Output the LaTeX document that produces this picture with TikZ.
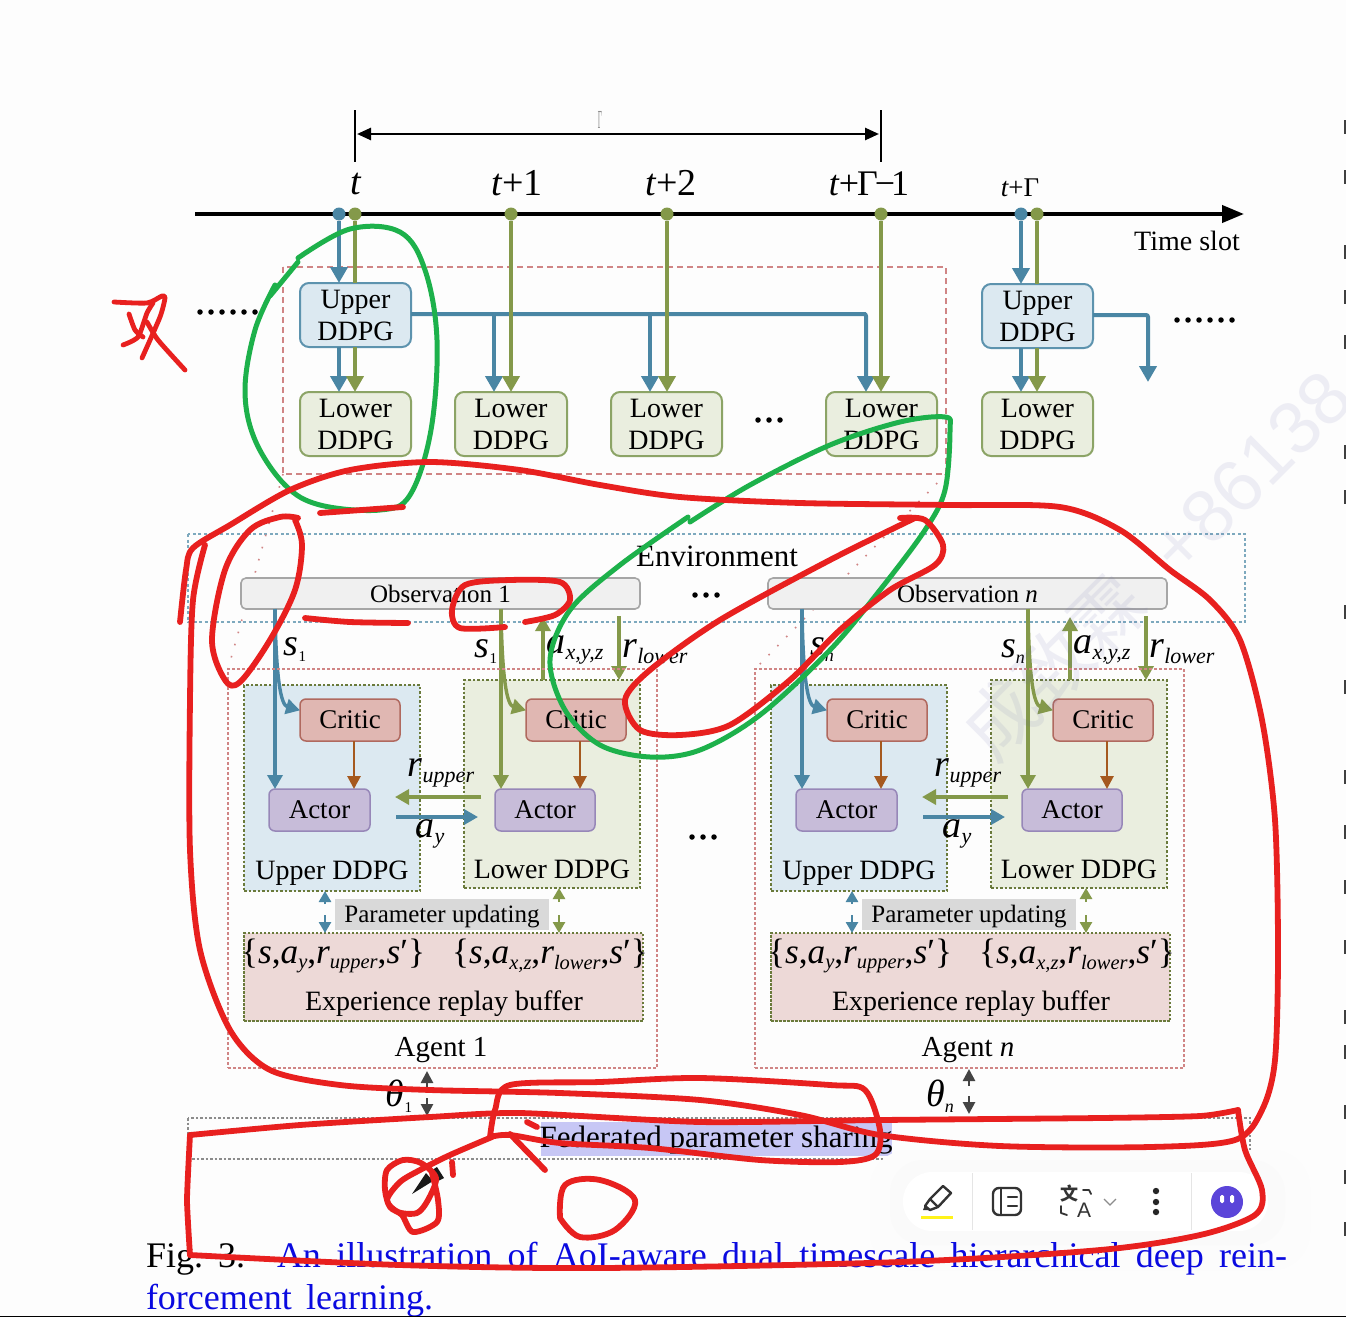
\documentclass[tikz,border=0pt]{standalone}
\usepackage{fontspec}
\setmainfont{Liberation Serif}
\newfontfamily\cjk{Noto Sans CJK SC}
\newfontfamily\uisans{Liberation Sans}
\usetikzlibrary{arrows.meta,calc,shapes.geometric}
\definecolor{pagebg}{HTML}{FDFDFD}
\definecolor{cblue}{HTML}{4A86A4}
\definecolor{colive}{HTML}{84994A}
\definecolor{fblue}{HTML}{DCE9F1}
\definecolor{dblue}{HTML}{5D93AE}
\definecolor{folive}{HTML}{EAEEDF}
\definecolor{dolive}{HTML}{8CA466}
\definecolor{fcrit}{HTML}{E0B7B2}
\definecolor{dcrit}{HTML}{B0695F}
\definecolor{fact}{HTML}{C7BCD9}
\definecolor{dact}{HTML}{9787B8}
\definecolor{cbrown}{HTML}{A5591F}
\definecolor{cred}{HTML}{E8201F}
\definecolor{cgreen}{HTML}{1DB14B}
\definecolor{cpink}{HTML}{D08585}
\definecolor{fbuf}{HTML}{EDD9D7}
\definecolor{cdark}{HTML}{444444}
\definecolor{fed}{HTML}{C7C7F5}
\definecolor{capblue}{HTML}{0A0AE0}
\definecolor{purp}{HTML}{5B45D9}
\newcommand\fs[1]{\fontsize{#1}{#1}\selectfont}
\newcommand\bx[7]{%
  \pgfmathsetmacro\bcx{(#2+#4)/2}\pgfmathsetmacro\bcy{(#3+#5)/2}%
  \pgfmathsetmacro\bw{#4-#2}\pgfmathsetmacro\bh{#5-#3}%
  \node[#6,minimum width=\bw pt,minimum height=\bh pt] (#1) at (\bcx,\bcy) {#7};}
\newcommand\vs[3]{{\fs{#1}\itshape #2}\raisebox{-6pt}{\fs{22}\itshape #3}}
\newcommand\subA{\fs{15}\upshape 1}
\newcommand\subN{\fs{18}\itshape n}
\tikzset{
  x=1pt,y=-1pt,
  every node/.style={inner sep=0pt,outer sep=0pt},
  ddpgbig/.style={rounded corners=9pt,line width=2pt,align=center,font=\fontsize{28}{32}\selectfont},
  upbox/.style={ddpgbig,draw=dblue,fill=fblue},
  lowbox/.style={ddpgbig,draw=dolive,fill=folive},
  critbox/.style={rounded corners=6pt,line width=1.5pt,draw=dcrit,fill=fcrit,font=\fs{27}},
  actbox/.style={rounded corners=6pt,line width=1.5pt,draw=dact,fill=fact,font=\fs{27}},
  obsbox/.style={rounded corners=5pt,line width=1.6pt,draw=black!35,fill=black!6,font=\fs{25}},
  shadeU/.style={draw=colive!80!black,dash pattern=on 2.5pt off 2pt,line width=1.4pt,fill=fblue},
  shadeL/.style={draw=colive!80!black,dash pattern=on 2.5pt off 2pt,line width=1.4pt,fill=folive},
  bufbox/.style={draw=colive!80!black,dash pattern=on 2.5pt off 1.5pt,line width=1.4pt,fill=fbuf},
  pinkframe/.style={draw=cpink,dash pattern=on 3pt off 2pt,line width=1.4pt},
  pinkbig/.style={draw=cpink,dash pattern=on 6pt off 4pt,line width=1.6pt},
  envframe/.style={draw=dblue!80,dash pattern=on 3pt off 2.5pt,line width=1.4pt},
  fedframe/.style={draw=black!45,dash pattern=on 2.5pt off 2pt,line width=1.4pt},
  arrB/.style={draw=cblue,line width=4pt,-{Triangle[length=16pt,width=17pt]}},
  arrO/.style={draw=colive,line width=4pt,-{Triangle[length=16pt,width=17pt]}},
  arrBs/.style={draw=cblue,line width=3.4pt,-{Triangle[length=14pt,width=15pt]}},
  arrOs/.style={draw=colive,line width=3.4pt,-{Triangle[length=14pt,width=15pt]}},
  arrBr/.style={draw=cbrown,line width=2.8pt,-{Triangle[length=13pt,width=13pt]}},
  arrBt/.style={draw=cblue,line width=2.6pt,-{Triangle[length=11pt,width=12pt]}},
  arrOt/.style={draw=colive,line width=2.6pt,-{Triangle[length=11pt,width=12pt]}},
  arrK/.style={draw=cdark,line width=2.6pt,-{Triangle[length=12pt,width=12pt]}},
  lineO/.style={draw=colive,line width=4pt},
  lineB/.style={draw=cblue,line width=4pt},
  dotB/.style={circle,fill=cblue,minimum size=13pt},
  dotO/.style={circle,fill=colive,minimum size=13pt},
  dotK/.style={circle,fill=black,minimum size=5.5pt},
  redpen/.style={draw=cred,line width=5.8pt,line cap=round,line join=round},
  greenpen/.style={draw=cgreen,line width=5pt,line cap=round,line join=round},
  icon/.style={draw=black!80,line width=2.4pt,line cap=round,line join=round},
  lab/.style={font=\fs{28}}
}
\newcommand\agentparts[4]{%
  % #1 id, #2 subscript, #3 observation text, #4 agent label
  \bx{uu#1}{244}{685}{420}{891}{shadeU}{}
  \bx{ll#1}{464}{680}{640}{888}{shadeL}{}
  \bx{ob#1}{241}{578}{640}{609}{obsbox}{#3}
  \bx{cu#1}{300}{699}{400}{741}{critbox}{Critic}
  \bx{cl#1}{526}{699}{626}{741}{critbox}{Critic}
  \bx{au#1}{269}{789}{370}{831}{actbox}{Actor}
  \bx{al#1}{495}{789}{595}{831}{actbox}{Actor}
  \coordinate (su#1) at (275,609);
  \coordinate (sl#1) at (501,609);
  \draw[arrBs] (su#1) -- (su#1 |- au#1.north);
  \draw[arrBs] (su#1) .. controls (276,680) and (281,705) .. ($(cu#1.north west)!0.27!(cu#1.south west)$);
  \draw[arrOs] (sl#1) -- (sl#1 |- al#1.north);
  \draw[arrOs] (sl#1) .. controls (502,680) and (507,705) .. ($(cl#1.north west)!0.27!(cl#1.south west)$);
  \coordinate (axS#1) at (543,680); \coordinate (axE#1) at (543,617);
  \draw[arrOs] (axS#1) -- (axE#1);
  \coordinate (rlS#1) at (619,616); \coordinate (rlE#1) at (619,680);
  \draw[arrOs] (rlS#1) -- (rlE#1);
  \coordinate (bru#1) at (354,741); \coordinate (brl#1) at (580,741);
  \draw[arrBr] (bru#1) -- (bru#1 |- au#1.north);
  \draw[arrBr] (brl#1) -- (brl#1 |- al#1.north);
  \coordinate (ruS#1) at (481,797); \coordinate (ruE#1) at (395,797);
  \draw[arrOs] (ruS#1) -- (ruE#1);
  \coordinate (ayS#1) at (396,817); \coordinate (ayE#1) at (478,817);
  \draw[arrBs] (ayS#1) -- (ayE#1);
  \node (t1#1) at (295,650) {\vs{38}{s}{#2}};
  \node (t2#1) at (486,652) {\vs{38}{s}{#2}};
  \node (t3#1) at (575,650) {\vs{38}{a}{x,y,z}};
  \node (t4#1) at (655,652) {\vs{38}{r}{lower}};
  \node (t5#1) at (441,773) {\vs{38}{r}{upper}};
  \node (t6#1) at (430,834) {\vs{38}{a}{y}};
  \node[lab] (t7#1) at (332,873) {Upper DDPG};
  \node[lab] (t8#1) at (552,869) {Lower DDPG};
  \bx{pu#1}{335}{899}{549}{930}{fill=black!15,font=\fs{25},text depth=2pt}{Parameter updating}
  \bx{bu#1}{244}{933}{643}{1021}{bufbox}{}
  \coordinate (ppu#1) at (325,904); \coordinate (qpu#1) at (325,891);
  \coordinate (rpu#1) at (325,915);
  \draw[arrBt] (ppu#1) -- (qpu#1);
  \draw[arrBt] (rpu#1) -- (rpu#1 |- bu#1.north);
  \coordinate (ppl#1) at (559,902); \coordinate (qpl#1) at (559,888);
  \coordinate (rpl#1) at (559,915);
  \draw[arrOt] (ppl#1) -- (qpl#1);
  \draw[arrOt] (rpl#1) -- (rpl#1 |- bu#1.north);
  \node (b1#1) at (333,956) {\scalebox{.93}{\fs{38}\{{\itshape s},\vs{38}{a}{y},\vs{38}{r}{upper},{\itshape s}′\}}};
  \node (b2#1) at (550,956) {\scalebox{.93}{\fs{38}\{{\itshape s},\vs{38}{a}{x,z},\vs{38}{r}{lower},{\itshape s}′\}}};
  \node[lab] (b3#1) at (444,1004) {Experience replay buffer};
  \bx{ag#1}{228}{669}{657}{1068}{pinkframe}{}
  \node[font=\fs{29}] (an#1) at (441,1050) {#4};
}
\begin{document}
\begin{tikzpicture}
\useasboundingbox (0,0) rectangle (1346,1317);
\fill[pagebg] (0,0) rectangle (1346,1317);

% clipped text of the neighbouring column at the right edge
\foreach \yy in {120,170,245,290,335,445,490,605,680,770,825,880,940,1010,1045,1105,1170,1222}{
  \fill[black!75] (1344,\yy) rectangle (1346,\yy+14);}

% time ruler
\coordinate (tickAa) at (355,110); \coordinate (tickAb) at (355,162);
\coordinate (tickBa) at (881,110); \coordinate (tickBb) at (881,162);
\draw[line width=2.8pt] (tickAa) -- (tickAb);
\draw[line width=2.8pt] (tickBa) -- (tickBb);
\draw[line width=2.6pt,{Triangle[length=14pt,width=12pt]}-{Triangle[length=14pt,width=12pt]}] (357,134) -- (879,134);
\node[text=black!45,font=\fs{26}] (gam) at (600,120) {\scalebox{.28}[1]{Γ}};

\coordinate (axa) at (195,214); \coordinate (axb) at (1244,214);
\draw[line width=4pt,-{Triangle[length=22pt,width=17pt]}] (axa) -- (axb);
\node[font=\fs{38}\itshape] (lt0) at (356,184) {t};
\node[font=\fs{38}] (lt1) at (517,183) {{\itshape t}+1};
\node[font=\fs{38}] (lt2) at (671,183) {{\itshape t}+2};
\node[font=\fs{36}] (lt3) at (869,184) {{\itshape t}+\kern-2ptΓ\kern-3pt−\kern-4pt1};
\node[font=\fs{27}] (lt4) at (1020,188) {{\itshape t}+Γ};
\node[font=\fs{28}] (lts) at (1187,241) {Time slot};

% top boxes
\bx{U1}{300}{283}{411}{347}{upbox}{Upper\\DDPG}
\bx{L1}{300}{392}{411}{456}{lowbox}{Lower\\DDPG}
\bx{L2}{455}{392}{567}{456}{lowbox}{Lower\\DDPG}
\bx{L3}{611}{392}{722}{456}{lowbox}{Lower\\DDPG}
\bx{L4}{826}{392}{937}{456}{lowbox}{Lower\\DDPG}
\bx{U2}{982}{284}{1093}{348}{upbox}{Upper\\DDPG}
\bx{L5}{982}{392}{1093}{456}{lowbox}{Lower\\DDPG}
\draw[pinkbig] (283,267) rectangle (946,474);

\node[dotB] (dB1) at (339,214) {};
\node[dotO] (dO1) at (355,214) {};
\node[dotO] (dO2) at (511,214) {};
\node[dotO] (dO3) at (667,214) {};
\node[dotO] (dO4) at (881,214) {};
\node[dotB] (dB2) at (1021,214) {};
\node[dotO] (dO5) at (1037,214) {};

\draw[lineO] (dO1) -- (dO1 |- U1.north);
\draw[arrB] (dB1) -- (dB1 |- U1.north);
\draw[arrB] (dB1 |- U1.south) -- (dB1 |- L1.north);
\draw[arrO] (dO1 |- U1.south) -- (dO1 |- L1.north);
\coordinate (bran2) at (494,314);
\coordinate (bran3) at (650,314);
\coordinate (busE) at (866,314);
\draw[lineB] (U1.east |- busE) -- (busE);
\draw[arrB,rounded corners=2pt] (U1.east |- busE) -- (busE) -- (busE |- L4.north);
\draw[arrB] (bran2) -- (bran2 |- L2.north);
\draw[arrB] (bran3) -- (bran3 |- L3.north);
\draw[arrO] (dO2) -- (dO2 |- L2.north);
\draw[arrO] (dO3) -- (dO3 |- L3.north);
\draw[arrO] (dO4) -- (dO4 |- L4.north);
\draw[lineO] (dO5) -- (dO5 |- U2.north);
\draw[arrB] (dB2) -- (dB2 |- U2.north);
\draw[arrB] (dB2 |- U2.south) -- (dB2 |- L5.north);
\draw[arrO] (dO5 |- U2.south) -- (dO5 |- L5.north);
\coordinate (rbC) at (1148,315); \coordinate (rbE) at (1148,382);
\draw[arrB,rounded corners=2pt] (U2.east |- rbC) -- (rbC) -- (rbE);

\foreach \xx/\nn in {200/a,211/b,222/c,233/d,244/e,255/f}{\node[dotK] (pa\nn) at (\xx,312) {};}
\foreach \xx/\nn in {1177/a,1188/b,1199/c,1210/d,1221/e,1232/f}{\node[dotK] (pb\nn) at (\xx,320) {};}
\foreach \xx/\nn in {758/a,769/b,780/c}{\node[dotK] (pc\nn) at (\xx,420) {};}
\foreach \xx/\nn in {695/a,706/b,717/c}{\node[dotK] (pd\nn) at (\xx,595) {};}
\foreach \xx/\nn in {692/a,703/b,714/c}{\node[dotK] (pe\nn) at (\xx,837) {};}

% environment
\draw[envframe] (188,534) rectangle (1245,622);
\node[font=\fs{31}] (env) at (717,556) {Environment};

% dotted links
\draw[draw=cpink,line width=1.6pt,dash pattern=on 1.6pt off 11pt] (283,474) -- (228,669);
\draw[draw=cpink,line width=1.6pt,dash pattern=on 1.6pt off 11pt] (946,474) -- (755,669);

% agents
\agentparts{A}{\subA}{Observation 1}{Agent 1}
\begin{scope}[xshift=527pt]
\agentparts{B}{\subN}{Observation {\itshape n}}{Agent {\itshape n}}
\end{scope}

% theta
\node (th1) at (399,1096) {\vs{38}{θ}{\subA}};
\node (thn) at (940,1096) {\vs{38}{θ}{\subN}};
\coordinate (k1a) at (427,1088); \coordinate (k1b) at (427,1071);
\coordinate (k1c) at (427,1098); \coordinate (k1d) at (427,1116);
\draw[arrK] (k1a) -- (k1b); \draw[arrK] (k1c) -- (k1d);
\coordinate (k2a) at (969,1086); \coordinate (k2b) at (969,1069);
\coordinate (k2c) at (969,1096); \coordinate (k2d) at (969,1114);
\draw[arrK] (k2a) -- (k2b); \draw[arrK] (k2c) -- (k2d);

% federated
\draw[fedframe] (188,1118) rectangle (1250,1159);
\fill[fed] (541,1122) rectangle (892,1156);
\node[font=\fs{31}] (fedt) at (716,1140) {Federated parameter sharing};

% watermark
\node[rotate=45,text=black!55!blue!60!white,opacity=.10,font=\fs{74}\uisans,anchor=west] (wm) at (975,745) {\cjk 成致霖\uisans\ \ +86138};

% toolbar
\fill[black!1,rounded corners=38pt] (870,1150) rectangle (1310,1270);
\fill[black!2,rounded corners=33pt] (890,1160) rectangle (1285,1245);
\fill[white,rounded corners=29pt] (903,1172) rectangle (1268,1231);
\draw[black!10,line width=1pt] (972,1173) -- (972,1230);
\draw[black!10,line width=1pt] (1191,1173) -- (1191,1230);
\draw[icon] (925,1206) -- (930,1199) -- (943,1186) -- (951,1193) -- (938,1207) -- (930,1210) -- cycle;
\draw[icon] (930,1199) -- (938,1207);
\fill[black!80] (923,1210) -- (925,1205) -- (930,1210) -- cycle;
\fill[yellow!90!white] (921,1215.5) rectangle (953,1219);
\draw[icon,rounded corners=6pt] (993,1188) rectangle (1021,1215);
\draw[icon] (1001,1188) -- (1001,1215);
\draw[icon] (1008,1197) -- (1017,1197);
\draw[icon] (1008,1206) -- (1017,1206);
\node[font=\fs{18}\cjk\bfseries,text=black!80] (tz) at (1069,1194) {文};
\node[font=\fs{21}\uisans,text=black!80] (ta) at (1084,1210) {A};
\draw[icon,line width=1.8pt] (1083,1190) -- (1089,1190) -- (1091,1194);
\draw[icon,line width=1.8pt] (1061,1206) -- (1061,1213) -- (1067,1215);
\draw[black!45,line width=1.2pt] (1104,1199) -- (1110,1205) -- (1116,1199);
\fill[black!85] (1156,1191) circle (3.2);
\fill[black!85] (1156,1202) circle (3.2);
\fill[black!85] (1156,1212) circle (3.2);
\fill[purp] (1227,1202) circle (16);
\fill[white,rounded corners=1.5pt] (1220,1195) rectangle (1224,1203);
\fill[white,rounded corners=1.5pt] (1230,1195) rectangle (1234,1203);

% caption
\node[anchor=base west,font=\fs{36}] (fig) at (146,1267) {\makebox[99pt][s]{Fig. 3.}};
\node[anchor=base west,font=\fs{36},text=capblue] (cap1) at (277,1267) {\makebox[1010pt][s]{An illustration of AoI-aware dual timescale hierarchical deep rein-}};
\node[anchor=base west,font=\fs{36},text=capblue] (cap2) at (146,1309) {\makebox[287pt][s]{forcement learning.}};
\fill[black] (0,1315.5) rectangle (1346,1317);

% cursor
\fill[black!90] (412,1194) -- (426,1173) -- (433,1181) -- cycle;
\fill[black!90] (429,1172) -- (437,1167) -- (444,1178) -- (436,1182) -- cycle;

% green pen
\draw[greenpen] (270,296) -- (298,262);
\draw[greenpen] plot[smooth,tension=.6] coordinates {(298,258)(350,229)(400,232)(425,270)(437,340)(431,430)(410,495)(380,510)(320,505)(285,485)(255,440)(245,390)(255,330)(275,285)};
\draw[greenpen] plot[smooth,tension=.55] coordinates {(690,522)(750,485)(830,445)(900,422)(945,417)(950,430)(945,490)(925,530)(880,590)(830,650)(760,715)(700,750)(650,757)(600,745)(565,710)(550,660)(570,610)(620,565)(688,517)};

% red pen
\draw[redpen] plot[smooth,tension=.5] coordinates {(180,622)(186,570)(193,548)(230,525)(290,490)(350,470)(430,462)(520,470)(600,485)(680,497)(800,503)(950,505)(1060,507)(1120,530)(1170,570)(1210,600)(1240,640)(1262,720)(1275,820)(1278,950)(1275,1060)(1262,1110)(1235,1140)(1150,1147)(1000,1146)(880,1135)(800,1115)(700,1100)(560,1093)(430,1090)(340,1085)(270,1070)(230,1030)(200,950)(190,850)(190,700)(193,600)(205,545)};
\draw[redpen] plot[smooth,tension=.4] coordinates {(190,1135)(300,1125)(430,1117)(520,1113)(700,1122)(880,1120)(1100,1118)(1200,1116)(1238,1110)};
\draw[redpen] plot[smooth,tension=.5] coordinates {(1238,1110)(1245,1150)(1262,1190)(1255,1215)(1200,1235)(1100,1250)(900,1262)(600,1268)(400,1265)(190,1255)};
\draw[redpen] plot[smooth,tension=.3] coordinates {(190,1255)(187,1200)(190,1135)};
\draw[redpen] plot[smooth,tension=.5] coordinates {(490,1137)(495,1110)(510,1085)(600,1082)(700,1078)(830,1085)(865,1090)(880,1130)(875,1155)(840,1162)(760,1160)(650,1148)(560,1143)(510,1135)(490,1137)};
\draw[redpen] (510,1134) -- (545,1170);
\draw[redpen] (527,1122) -- (537,1127);
\draw[redpen] plot[smooth,tension=.5] coordinates {(492,1137)(450,1155)(420,1170)(400,1182)(387,1200)(398,1212)(417,1213)(428,1200)(436,1178)(421,1163)(403,1160)(387,1170)(385,1190)(390,1207)(402,1215)(413,1232)(437,1222)(438,1200)(432,1173)};
\draw[redpen] (452,1162) -- (453,1175);
\draw[redpen] plot[smooth,tension=.6] coordinates {(560,1218)(565,1185)(600,1180)(635,1200)(615,1230)(580,1237)(560,1218)};
\draw[redpen] plot[smooth,tension=.55] coordinates {(298,518)(280,517)(250,530)(225,570)(212,640)(225,680)(240,682)(270,640)(295,590)(302,545)(295,520)};
\draw[redpen] plot[smooth] coordinates {(305,618)(350,622)(408,623)};
\draw[redpen] (320,513) -- (403,507);
\draw[redpen] plot[smooth,tension=.5] coordinates {(505,627)(460,628)(452,610)(465,585)(510,580)(560,582)(570,600)(555,615)(525,622)};
\draw[redpen] plot[smooth,tension=.5] coordinates {(900,518)(925,520)(943,545)(935,565)(890,590)(840,630)(790,680)(730,725)(680,735)(640,730)(625,700)(650,670)(720,620)(830,560)(915,518)};
% hand-written character
\draw[redpen,line width=4.8pt] plot[smooth,tension=.4] coordinates {(114,302)(147,303)(162,296)(165,298)(160,317)(142,358)};
\draw[redpen,line width=4.8pt] plot[smooth,tension=.4] coordinates {(129,314)(135,330)(143,337)};
\draw[redpen,line width=4.8pt] plot[smooth,tension=.4] coordinates {(123,345)(138,337)(147,313)(153,303)};
\draw[redpen,line width=4.8pt] plot[smooth,tension=.4] coordinates {(147,322)(158,340)(185,370)};
\end{tikzpicture}
\end{document}
